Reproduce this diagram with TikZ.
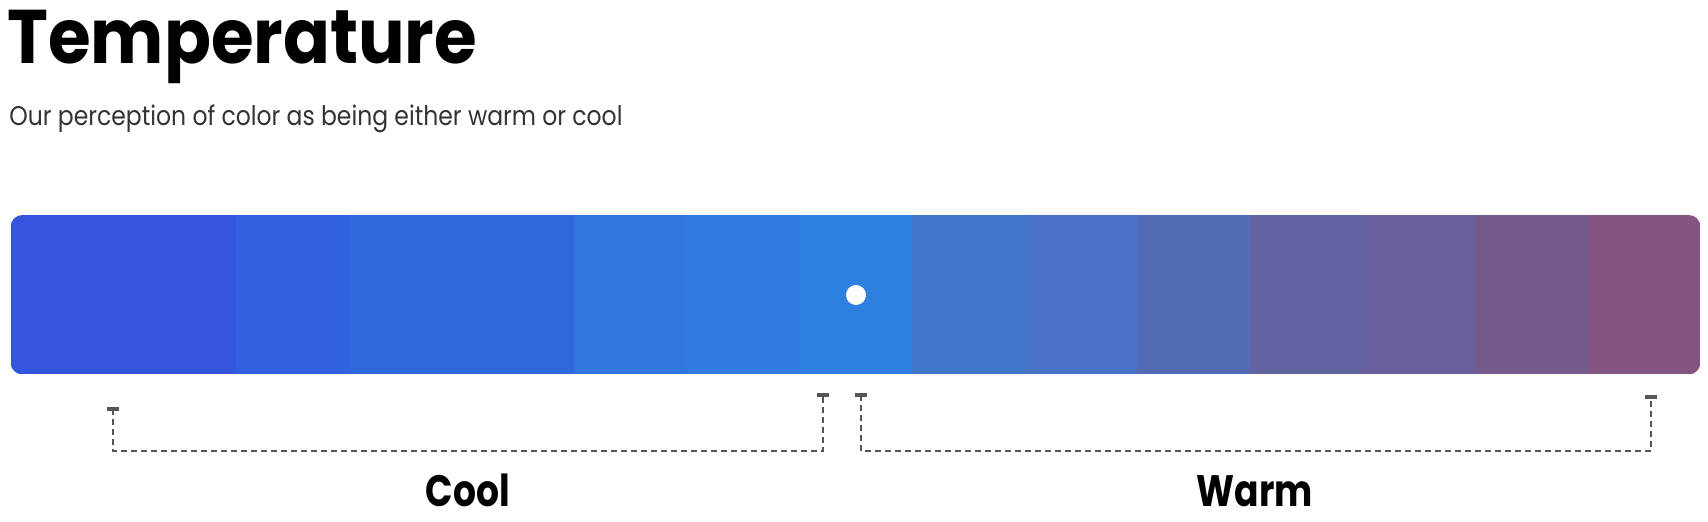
\documentclass[tikz,border=0pt]{standalone}
\usepackage{fontspec}
\setmainfont{Poppins}
\definecolor{t1}{HTML}{3455DE}
\definecolor{t2}{HTML}{3455DE}
\definecolor{t3}{HTML}{3061DE}
\definecolor{t4}{HTML}{3067DC}
\definecolor{t5}{HTML}{3067DC}
\definecolor{t6}{HTML}{3176E0}
\definecolor{t7}{HTML}{307BDF}
\definecolor{t8}{HTML}{2E80E0}
\definecolor{t9}{HTML}{3F78CA}
\definecolor{t10}{HTML}{4873C6}
\definecolor{t11}{HTML}{526BB5}
\definecolor{t12}{HTML}{6163A3}
\definecolor{t13}{HTML}{6A609E}
\definecolor{t14}{HTML}{755A8E}
\definecolor{t15}{HTML}{845580}
\definecolor{bracketgray}{HTML}{555555}
\definecolor{subgray}{HTML}{333333}
\tikzset{
  bracket/.style={draw=bracketgray, line width=1.4pt, dash pattern=on 2.8pt off 2.2pt},
  tickcap/.style={draw=bracketgray, line width=1.8pt},
  tag/.style={anchor=base, inner sep=0pt, font=\bfseries\fontsize{22}{22}\selectfont}
}
\begin{document}
\begin{tikzpicture}[x=0.5pt, y=-0.5pt]
\useasboundingbox (0,0) rectangle (1708,522);
% heading
\node[anchor=base west, inner sep=0pt, font=\bfseries\fontsize{38}{38}\selectfont] (title) at (7,64) {\scalebox{0.91}[1]{Temperature}};
\node[anchor=base west, inner sep=0pt, text=subgray, font=\fontsize{13.5}{13.5}\selectfont] (sub) at (9,126) {\scalebox{0.87}[1]{Our perception of color as being either warm or cool}};
% the colour bar
\begin{scope}
\clip[rounded corners=6pt] (10.5,215) rectangle (1700.5,374.5);
\foreach \i in {1,...,15}
  \fill[t\i] ({10.5+(\i-1)*112.67},215) rectangle ({11+\i*112.67},374.5);
\end{scope}
\node[circle, fill=white, minimum size=10pt, inner sep=0pt] (dot) at (856,295) {};
% brackets
\coordinate (coolL) at (113,409);
\coordinate (coolR) at (823,395);
\coordinate (warmL) at (861,395);
\coordinate (warmR) at (1651,397);
\draw[bracket] (coolL) |- (468,451) -| (coolR);
\draw[bracket] (warmL) |- (1255,451) -| (warmR);
\foreach \p in {coolL,coolR,warmL,warmR}
  \draw[tickcap] ([xshift=-3pt]\p) -- ([xshift=3pt]\p);
\node[tag] (cool) at (468,507) {\scalebox{0.82}[1]{Cool}};
\node[tag] (warm) at (1255,507) {\scalebox{0.82}[1]{Warm}};
\end{tikzpicture}
\end{document}
